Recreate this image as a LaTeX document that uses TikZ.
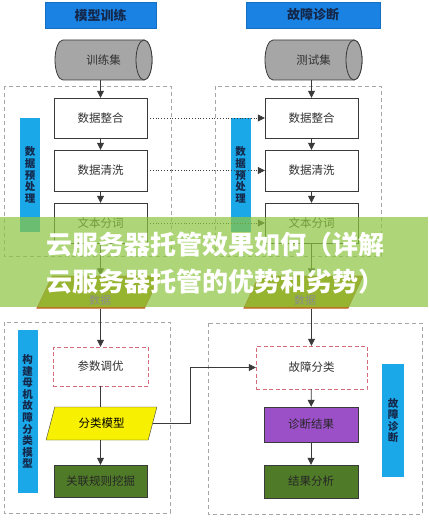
\documentclass[tikz,border=0pt]{standalone}
\usepackage{fontspec}
\setmainfont{Noto Sans CJK SC}
\usepackage{xcolor}
\usepackage{tikz}
\usetikzlibrary{shapes.geometric, arrows.meta, positioning, calc}
\definecolor{dgblue}{HTML}{1A82E2}
\definecolor{dgcyan}{HTML}{1AA8E8}
\definecolor{dgnavy}{HTML}{14284B}
\definecolor{dggray}{HTML}{A6A6A6}
\definecolor{dgline}{HTML}{3A3A3A}
\definecolor{dgpink}{HTML}{D46A7A}
\definecolor{dgyellow}{HTML}{F7F000}
\definecolor{dggreen}{HTML}{4F7A28}
\definecolor{dgpurple}{HTML}{9B50C8}
\definecolor{dgolive}{HTML}{B08A10}
\definecolor{dgbrown}{HTML}{C0622A}
\definecolor{dgband}{HTML}{8CC63F}

\begin{document}
\begin{tikzpicture}[x=1pt, y=-1pt, font=\fontsize{11.5}{13}\selectfont,
        box/.style={draw=dgline, fill=white, text=black!80, minimum width=93pt,
          minimum height=40pt, inner sep=0pt},
        tune/.style={box, draw=dgpink, dashed, dash pattern=on 4pt off 2.5pt},
        title/.style={fill=dgblue, draw=dgblue!85!black, text=dgnavy, minimum height=26pt,
          inner sep=0pt, font=\fontsize{13}{15}\selectfont\bfseries},
        cyltext/.style={text=black!80, minimum width=97pt, minimum height=40pt, inner sep=0pt},
        cylbody/.style={fill=dggray, draw=dgline, line width=0.8pt},
        sidebar/.style={fill=dgcyan, text=dgnavy, minimum width=20pt, inner sep=0pt,
          align=center, font=\fontsize{10.5}{11.6}\selectfont\bfseries},
        para/.style={trapezium, trapezium left angle=70, trapezium right angle=110,
          trapezium stretches=true, inner sep=0pt, minimum height=32pt},
        frame/.style={draw=black!35, dashed, dash pattern=on 4pt off 3pt},
        arr/.style={-{Triangle[length=7pt,width=7pt]}, draw=dgline, line width=0.8pt},
        dotarr/.style={arr, dotted, line width=0.6pt},
        banner/.style={text=white, align=center, font=\fontsize{26}{37}\selectfont\bfseries}]
        \fill[white] (0,0) rectangle (428,524);
        % dashed group frames
        \draw[frame] (4,86) rectangle (171,256);
        \draw[frame] (215,86) rectangle (381,256);
        \draw[frame] (4,322) rectangle (170,513);
        \draw[frame] (208,323) rectangle (422,514);
        % headers
        \node[title, minimum width=111pt] (ltitle) at (100.5,15) {模型训练};
        \node[title, minimum width=134pt] (rtitle) at (313,15) {故障诊断};
        % data sets, drawn as lying cylinders
        \foreach \cx in {103.5,313.5} {
          \draw[cylbody] (\cx-40.5,40) -- (\cx+40.5,40) arc[start angle=-90, end angle=90, x radius=8, y radius=20]
            -- (\cx-40.5,80) arc[start angle=90, end angle=270, x radius=8, y radius=20] -- cycle;
          \draw[cylbody] (\cx+40.5,60) ellipse[x radius=8, y radius=20];
        }
        \node[cyltext] (train) at (103.5,60) {训练集};
        \node[cyltext] (test) at (313.5,60) {测试集};
        % side labels
        \node[sidebar, minimum height=114pt] (lprep) at (30,175) {数\\据\\预\\处\\理};
        \node[sidebar, minimum height=114pt] (rprep) at (240.5,175) {数\\据\\预\\处\\理};
        \node[sidebar, minimum height=163pt] (lbuild) at (27.5,411.5) {构\\建\\母\\机\\故\\障\\分\\类\\模\\型};
        \node[sidebar, minimum width=22pt, minimum height=113pt] (rdiag) at (393,420.5) {故\\障\\诊\\断};
        % preprocessing steps
        \node[box] (lmerge) at (100.5,118) {数据整合};
        \node[box, minimum height=41pt] (lclean) at (100.5,170.5) {数据清洗};
        \node[box] (lsplit) at (100.5,223) {文本分词};
        \node[box] (rmerge) at (311.5,118) {数据整合};
        \node[box, minimum height=41pt] (rclean) at (311.5,170.5) {数据清洗};
        \node[box] (rsplit) at (311.5,223) {文本分词};
        \node[para, minimum width=123pt, fill=dgolive, draw=dgbrown, line width=1pt] (ldata) at (98.5,292) {\phantom{数据}};
        \node[para, minimum width=119pt, fill=dgolive, draw=dgbrown, line width=1pt] (rdata) at (303.5,292) {\phantom{数据}};
        % model and diagnosis
        \node[tune, minimum width=95pt, minimum height=39pt] (ltune) at (100.5,366.5) {参数调优};
        \node[para, trapezium left angle=68, trapezium right angle=112, minimum width=111pt,
          minimum height=33pt, fill=dgyellow, draw=dgline] (lmodel) at (101.5,423.5) {分类模型};
        \node[box, fill=dggreen, minimum height=32pt, text=black!85] (lrule) at (100.5,481) {关联规则挖掘};
        \node[tune, minimum width=111pt, minimum height=43pt] (rclass) at (311.5,367.5) {故障分类};
        \node[box, fill=dgpurple, minimum width=94pt, minimum height=35pt, text=black!85] (rresult) at (311,424.5) {诊断结果};
        \node[box, fill=dggreen, minimum width=94pt, minimum height=33pt, text=black!85] (ranal) at (311,481.5) {结果分析};
        \coordinate (kink) at (190,367.5);
        % connectors
        \draw[arr] (train.south -| lmerge.north) -- (lmerge);
        \draw[arr] (lmerge) -- (lclean);
        \draw[arr] (lclean) -- (lsplit);
        \draw[arr] (lsplit) -- (lsplit.south |- ldata.north);
        \draw[arr] (test.south -| rmerge.north) -- (rmerge);
        \draw[arr] (rmerge) -- (rclean);
        \draw[arr] (rclean) -- (rsplit);
        \draw[arr] (rsplit) -- (rsplit.south |- rdata.north);
        \draw[dotarr] (lmerge) -- (rmerge);
        \draw[dotarr] (lclean) -- (rclean);
        \draw[dotarr] (lsplit) -- (rsplit);
        \draw[arr] (ldata.south -| ltune.north) -- (ltune);
        \draw[arr, -] (ltune) -- (ltune.south |- lmodel.north);
        \draw[arr] (lmodel.south -| lrule.north) -- (lrule);
        \draw[arr] (rdata.south -| rclass.north) -- (rclass);
        \draw[arr] (rclass) -- (rresult);
        \draw[arr] (rresult) -- (ranal);
        \draw[arr] (lmodel.east) -| (kink) -- (rclass.west);
        % overlay band
        \fill[dgband, opacity=0.7] (0,217) rectangle (428,307);
        \node[banner] (headline) at (215,263) {云服务器托管效果如何（详解\\云服务器托管的优势和劣势）};
        \node[text=black!45, font=\fontsize{11}{12}\selectfont] (ldatatxt) at (100,300.5) {数据};
        \node[text=black!45, font=\fontsize{11}{12}\selectfont] (rdatatxt) at (305,300.5) {数据};
      \end{tikzpicture}
\end{document}
